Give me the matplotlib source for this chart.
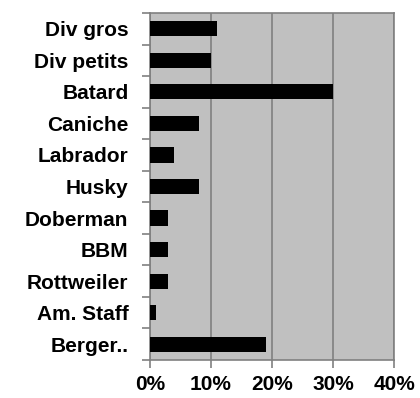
import matplotlib
matplotlib.use('Agg')
import matplotlib.pyplot as plt
from matplotlib.ticker import FuncFormatter, FixedLocator

breeds = ['Div gros', 'Div petits', 'Batard', 'Caniche', 'Labrador', 'Husky',
          'Doberman', 'BBM', 'Rottweiler', 'Am. Staff', 'Berger..']
pct = [11, 10, 30, 8, 4, 8, 3, 3, 3, 1, 19]
xticks = [0, 10, 20, 30, 40]

plt.rcParams['font.family'] = ['Liberation Sans', 'DejaVu Sans']

fig = plt.figure(figsize=(4.2, 3.98), dpi=100, facecolor='white')
ax = fig.add_axes([150/420, 1 - 360/398, 244/420, 347/398])
ax.set_facecolor('#c0c0c0')

ypos = list(range(len(breeds)))[::-1]
ax.barh(ypos, pct, height=0.48, color='black', zorder=3)

ax.set_xlim(0, 40)
ax.set_ylim(-0.5, len(breeds) - 0.5)
ax.set_xticks(xticks)
ax.xaxis.set_major_formatter(FuncFormatter(lambda v, p: '%d%%' % v))
ax.grid(axis='x', color='#808080', lw=1.2, zorder=1)

# category labels centred, tick marks on the boundaries
ax.set_yticks(ypos)
ax.set_yticklabels(breeds)
ax.yaxis.set_minor_locator(FixedLocator([i - 0.5 for i in range(len(breeds) + 1)]))
ax.tick_params(axis='y', which='major', length=0, pad=15.5)
ax.tick_params(axis='y', which='minor', length=6, color='#808080', width=1.2)
ax.tick_params(axis='x', length=6, color='#808080', width=1.2, pad=5)

for lab in ax.get_yticklabels() + ax.get_xticklabels():
    lab.set_fontsize(15)
    lab.set_fontweight('bold')

for s in ax.spines.values():
    s.set_color('#808080')
    s.set_linewidth(1.2)

plt.savefig('out.png', dpi=100, facecolor='white')
